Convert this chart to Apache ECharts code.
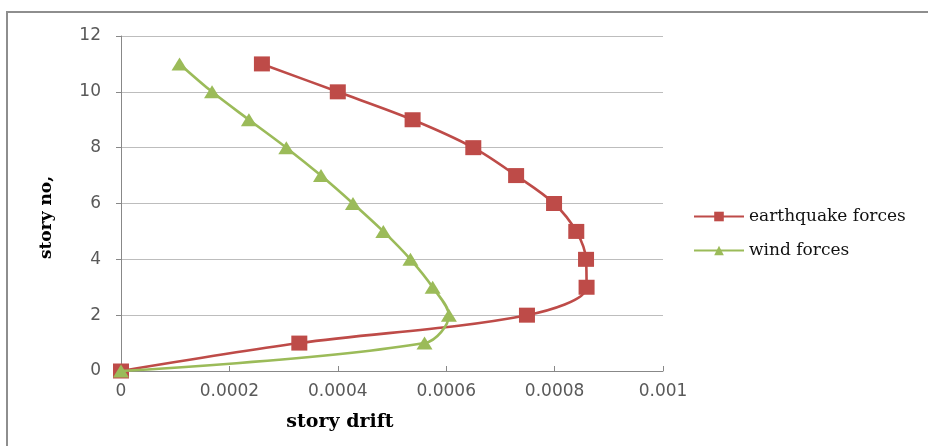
<!DOCTYPE html>
<html>
<head>
<meta charset="utf-8">
<script src="https://cdn.jsdelivr.net/npm/echarts@6/dist/echarts.min.js"></script>
<style>
  html, body { margin: 0; padding: 0; background: #fff; }
  #chart { width: 928px; height: 446px; }
</style>
</head>
<body>
<div id="chart"></div>
<script>
// Story numbers (vertical axis) and drift per story for each load case
const stories = [0, 1, 2, 3, 4, 5, 6, 7, 8, 9, 10, 11];
const earthquakeDrift = [0, 0.000329, 0.000749, 0.000859, 0.000858, 0.000840, 0.000799, 0.000729, 0.000650, 0.000538, 0.000400, 0.000260];
const windDrift = [0, 0.000560, 0.000605, 0.000575, 0.000534, 0.000484, 0.000428, 0.000369, 0.000305, 0.000236, 0.000168, 0.000108];
const xTicks = { min: 0, max: 0.001, step: 0.0002 };
const yTicks = { min: 0, max: 12, step: 2 };
const seriesNames = ['earthquake forces', 'wind forces'];

const pairs = (xs) => xs.map((x, i) => [x, stories[i]]);

const RED = '#BE4B48';
const GREEN = '#9BBB59';

const chart = echarts.init(document.getElementById('chart'), null, { renderer: 'canvas' });

chart.setOption({
  animation: false,
  backgroundColor: '#ffffff',
  graphic: [{
    type: 'rect',
    shape: { x: 7, y: 12, width: 1000, height: 1000 },
    style: { fill: 'none', stroke: '#8e8e8e', lineWidth: 2 },
    silent: true
  }],
  grid: { left: 121, top: 36, width: 542, height: 335, containLabel: false },
  xAxis: {
    type: 'value',
    min: xTicks.min, max: xTicks.max, interval: xTicks.step,
    name: 'story drift',
    nameLocation: 'middle',
    nameGap: 42,
    nameTextStyle: {
      fontFamily: 'DejaVu Serif', fontWeight: 'bold', fontSize: 19, color: '#000',
      padding: [0, 104, 0, 0]
    },
    axisLine: { show: true, lineStyle: { color: '#888888', width: 1 } },
    axisTick: { show: true, inside: true, length: 5, lineStyle: { color: '#888888' } },
    axisLabel: {
      margin: 12, color: '#595959', fontFamily: 'DejaVu Sans', fontSize: 17,
      formatter: (v) => (v === 0 ? '0' : String(+v.toPrecision(6)))
    },
    splitLine: { show: false }
  },
  yAxis: {
    type: 'value',
    min: yTicks.min, max: yTicks.max, interval: yTicks.step,
    name: 'story no,',
    nameLocation: 'middle',
    nameRotate: 90,
    nameGap: 66,
    nameTextStyle: {
      fontFamily: 'DejaVu Serif', fontWeight: 'bold', fontSize: 17, color: '#000',
      padding: [0, 28, 0, 0]
    },
    axisLine: { show: true, lineStyle: { color: '#888888', width: 1 } },
    axisTick: { show: true, length: 5, lineStyle: { color: '#888888' } },
    axisLabel: { margin: 20, color: '#595959', fontFamily: 'DejaVu Sans', fontSize: 17 },
    splitLine: { show: true, lineStyle: { color: '#bdbdbd', width: 1 } }
  },
  legend: {
    orient: 'vertical',
    left: 693,
    top: 208,
    padding: 0,
    itemWidth: 50,
    itemHeight: 12,
    itemGap: 17,
    textStyle: { fontFamily: 'DejaVu Serif', fontSize: 17, color: '#111' },
    data: seriesNames
  },
  series: [
    {
      name: seriesNames[0],
      type: 'line',
      data: pairs(earthquakeDrift),
      smooth: 0.33,
      symbol: 'rect',
      symbolSize: [16, 15],
      lineStyle: { color: RED, width: 2.6 },
      itemStyle: { color: RED },
      clip: false,
      z: 3
    },
    {
      name: seriesNames[1],
      type: 'line',
      data: pairs(windDrift),
      smooth: 0.33,
      symbol: 'triangle',
      symbolSize: [16, 13],
      lineStyle: { color: GREEN, width: 2.6 },
      itemStyle: { color: GREEN },
      clip: false,
      z: 4
    }
  ]
});
</script>
</body>
</html>
